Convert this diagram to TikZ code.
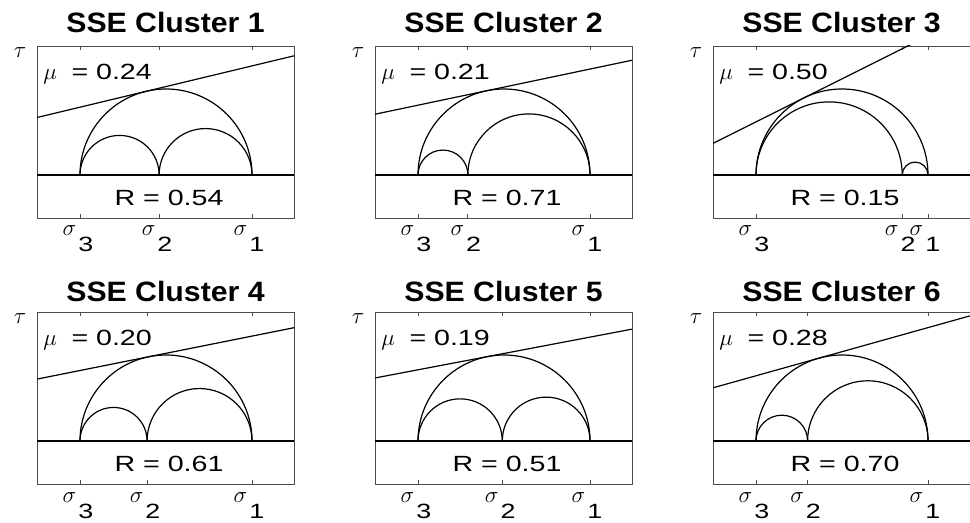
\documentclass[tikz,border=0pt]{standalone}
\usepackage{fontspec}
\setmainfont{Liberation Sans}
\usepackage{amsmath}
\usetikzlibrary{positioning}

% horizontally widened text, as in the printed figure
\newcommand{\widetext}[2][1.3]{\scalebox{#1}[1]{#2}}
\newcommand{\sigmalbl}[1]{{\fontsize{17}{20}\selectfont$\sigma$}\hspace{1.5pt}\raisebox{-12pt}{\fontsize{15.5}{17}\selectfont\widetext{#1}}}

\tikzset{
  frame/.style={draw=black!70, line width=0.6pt},
  curve/.style={draw=black, line width=0.9pt},
  ttl/.style={anchor=base, inner sep=0pt, font=\fontsize{21}{24}\selectfont\bfseries},
  lbl/.style={inner sep=0pt, font=\fontsize{16.5}{19}\selectfont},
}

\begin{document}
\begin{tikzpicture}[x=0.75pt,y=0.75pt,yscale=-1,xscale=1]
\useasboundingbox (0,0) rectangle (970,523);

% one Mohr diagram per cluster: left edge / top edge / title baseline / number / mu / R
\foreach \bx/\by/\ty/\k/\mc/\rr in {37/46/32.5/1/0.24/0.54, 375/46/32.5/2/0.21/0.71, 713/46/32.5/3/0.50/0.15,
                                    37/312/302/4/0.20/0.61, 375/312/302/5/0.19/0.51, 713/312/302/6/0.28/0.70}{
  \pgfmathsetmacro\sthree{\bx+43}
  \pgfmathsetmacro\sone{\sthree+172}
  \pgfmathsetmacro\stwo{\sone-172*\rr}
  \pgfmathsetmacro\base{\by+129}
  \pgfmathsetmacro\hl{86*sqrt(1+\mc*\mc)-129*\mc}
  \pgfmathsetmacro\hr{86*sqrt(1+\mc*\mc)+128*\mc}

  \coordinate (nw\k) at (\bx,\by);
  \coordinate (se\k) at (\bx+257,\by+172);

  % frame, ticks and sigma axis
  \draw[frame] (nw\k) rectangle (se\k);
  \foreach \s in {\sthree,\stwo,\sone}{
    \draw[frame] (\s,\by) -- ++(0,4);
    \draw[frame] (\s,\by+172) -- ++(0,-4);
  }
  \draw[curve] (\bx,\base) -- (\bx+257,\base);

  % circles
  \draw[curve] (\sone,\base) arc[start angle=0, end angle=-180, radius=86];
  \draw[curve] (\stwo,\base) arc[start angle=0, end angle=-180, radius={(\stwo-\sthree)/2}];
  \draw[curve] (\sone,\base) arc[start angle=0, end angle=-180, radius={(\sone-\stwo)/2}];

  % failure envelope
  \begin{scope}
    \clip (nw\k) rectangle (se\k);
    \draw[curve] (\bx,\base-\hl) -- (\bx+257,\base-\hr);
  \end{scope}

  % Text Node
  \node[ttl] (title\k) at (\bx+128.5,\ty) {\widetext[1.08]{SSE Cluster \k}};
  \node[lbl, anchor=base west] (mu\k) at (\bx+6,\by+33.5) {{\fontsize{17.5}{20}\selectfont$\mu$}\hspace{11pt}\widetext{= \mc}};
  \node[lbl, anchor=base] (rv\k) at (\bx+132,\by+159.5) {\widetext{R = \rr}};
  \node[lbl, font=\fontsize{19}{22}\selectfont] (tau\k) at (\bx-17,\by+7) {$\tau$};
  \node[lbl, anchor=base] (sc\k) at (\sthree-2,\by+190) {\sigmalbl{3}};
  \node[lbl, anchor=base] (sb\k) at (\stwo-2,\by+190) {\sigmalbl{2}};
  \node[lbl, anchor=base] (sa\k) at (\sone-3,\by+190) {\sigmalbl{1}};
}
\end{tikzpicture}
\end{document}
